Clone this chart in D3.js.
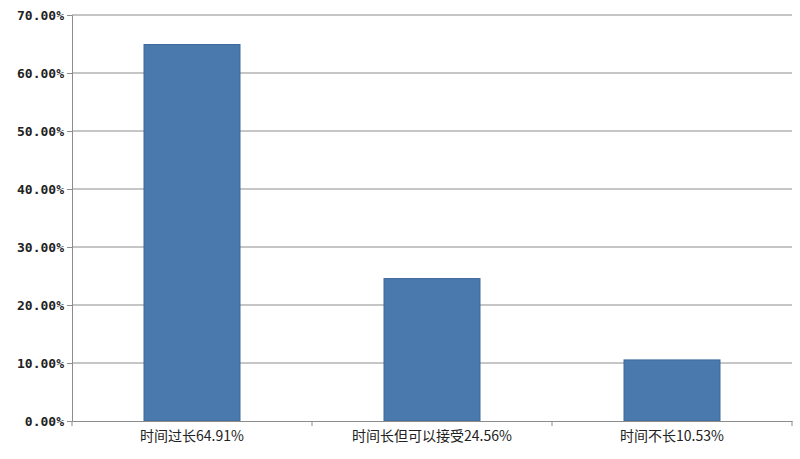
<!DOCTYPE html>
<html><head><meta charset="utf-8">
<script src="https://cdn.jsdelivr.net/npm/d3@7"></script>
<style>body{margin:0;background:#fff}</style></head>
<body><svg id="c" width="800" height="459"></svg>
<script>
const categories = ["时间过长64.91%", "时间长但可以接受24.56%", "时间不长10.53%"];
const values = [64.91, 24.56, 10.53];
const yTicks = [0, 10, 20, 30, 40, 50, 60, 70];

const svg = d3.select("#c");
const m = {l:72, r:792, t:15, b:421};
const x = d3.scaleBand().domain(categories).range([m.l, m.r]).paddingInner(0.6).paddingOuter(0.3);
const xb = d3.scaleBand().domain(categories).range([m.l, m.r]);
const y = d3.scaleLinear().domain([0,70]).range([m.b, m.t]);
const font = "'DejaVu Sans Mono', monospace";

svg.append("g").selectAll("line").data(yTicks.slice(1)).join("line")
  .attr("x1", m.l).attr("x2", m.r).attr("y1", d=>y(d)).attr("y2", d=>y(d))
  .attr("stroke", "#8c8c8c").attr("stroke-width", 1);

svg.append("g").selectAll("rect").data(values).join("rect")
  .attr("x", (d,i)=>x(categories[i])).attr("width", x.bandwidth())
  .attr("y", d=>y(d)).attr("height", d=>m.b-y(d))
  .attr("fill", "#4a79ad").attr("stroke", "#3f6a9a");

const ya = svg.append("g").attr("transform", `translate(${m.l},0)`)
  .call(d3.axisLeft(y).tickValues(yTicks).tickSize(5).tickFormat(d=>d.toFixed(2)+"%"));
ya.select(".domain").attr("stroke", "#8c8c8c");
ya.selectAll("line").attr("stroke", "#8c8c8c");
ya.selectAll("text").attr("font-family", font).attr("font-size", 13).attr("font-weight","bold").attr("fill","#222");

const xa = svg.append("g").attr("transform", `translate(0,${m.b})`)
  .call(d3.axisBottom(xb).tickSize(0).tickPadding(10));
xa.select(".domain").attr("stroke", "#8c8c8c");
xa.selectAll("text").attr("font-family", "'Noto Sans CJK SC', 'DejaVu Sans Mono', sans-serif").attr("font-size", 14).attr("fill","#222");
svg.append("g").selectAll("line").data([m.l, ...categories.map(c=>xb(c)+xb.bandwidth())]).join("line")
  .attr("x1", d=>d).attr("x2", d=>d).attr("y1", m.b).attr("y2", m.b+5).attr("stroke", "#8c8c8c");
</script></body></html>
